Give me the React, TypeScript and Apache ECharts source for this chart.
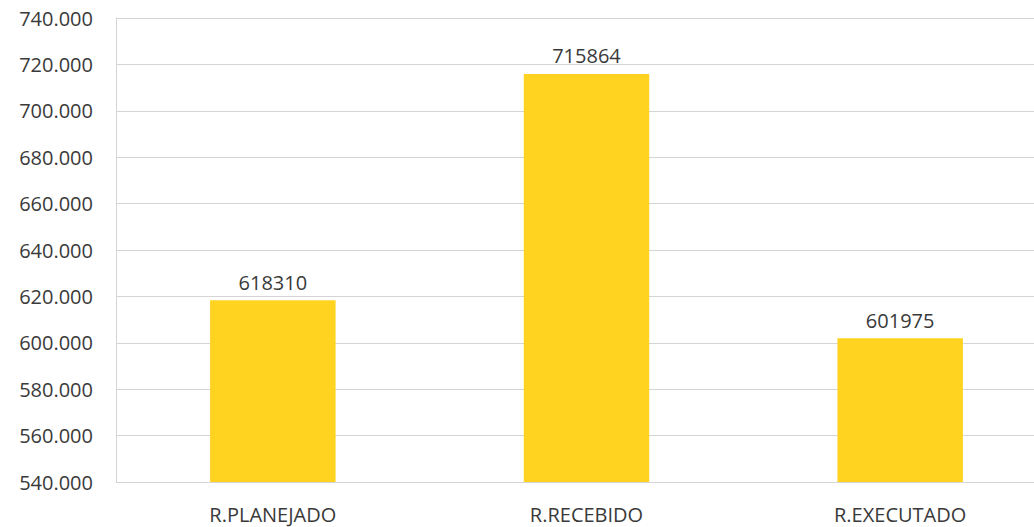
import React, { useEffect, useRef } from "react";
import * as echarts from "echarts";

const categories = ["R.PLANEJADO", "R.RECEBIDO", "R.EXECUTADO"];
const values = [618310, 715864, 601975];
const yMin = 540000;
const yMax = 740000;
const yInterval = 20000;

export default function App() {
  const ref = useRef<HTMLDivElement>(null);
  useEffect(() => {
    if (!ref.current) return;
    const chart = echarts.init(ref.current, undefined, { renderer: "svg" });
    const font = "'Open Sans', sans-serif";
    chart.setOption({
      animation: false,
      grid: { left: 116, top: 18, right: 3, bottom: 45, containLabel: false },
      xAxis: {
        type: "category",
        data: categories,
        axisLine: { show: true, lineStyle: { color: "#D4D4D4", width: 1 } },
        axisTick: { show: false },
        axisLabel: { color: "#3A3A3A", fontSize: 20, fontFamily: font, margin: 22 },
      },
      yAxis: {
        type: "value",
        min: yMin,
        max: yMax,
        interval: yInterval,
        axisLine: { show: true, lineStyle: { color: "#D4D4D4", width: 1 } },
        axisTick: { show: false },
        splitLine: { show: true, lineStyle: { color: "#D4D4D4", width: 1 } },
        axisLabel: {
          color: "#3A3A3A",
          fontSize: 20,
          fontFamily: font,
          margin: 23,
          formatter: (v: number) => `${Math.round(v / 1000)}.000`,
        },
      },
      series: [
        {
          type: "bar",
          data: values,
          barWidth: "40%",
          itemStyle: { color: "#FFD320" },
          label: {
            show: true,
            position: "top",
            distance: 8,
            color: "#3A3A3A",
            fontSize: 20,
            fontFamily: font,
          },
        },
      ],
    });
    return () => chart.dispose();
  }, []);
  return (
    <div style={{ position: "fixed", left: 0, top: 0, width: 1034, height: 527, overflow: "hidden", background: "#fff" }}>
      <div ref={ref} style={{ width: 1060, height: 527 }} />
    </div>
  );
}
